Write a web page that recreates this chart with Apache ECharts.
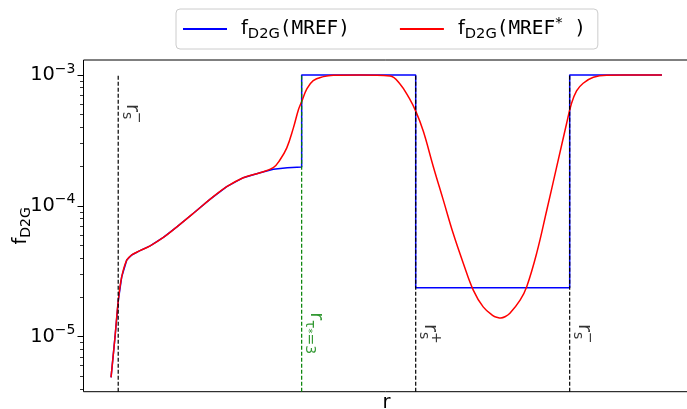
<!DOCTYPE html>
<html><head><meta charset="utf-8">
<script src="https://cdn.jsdelivr.net/npm/echarts@6/dist/echarts.min.js"></script>
<style>html,body{margin:0;padding:0;background:#fff}#c{width:687px;height:409px}</style>
</head><body><div id="c"></div>
<script>
// ---- data ----
const rRed = [0, 0.145, 0.265, 0.388, 0.57, 0.75, 1.05, 1.42, 1.90, 2.38, 2.99, 3.59, 4.20, 4.80, 5.41, 5.89, 6.13, 6.38, 6.62, 6.80, 6.92, 7.10, 7.34, 7.71, 8.07, 9.04, 10.13, 10.49, 10.82, 11.07, 11.34, 11.70, 12.06, 12.42, 12.79, 13.15, 13.51, 13.88, 14.0, 14.15, 14.3, 14.48, 14.85, 15.09, 15.45, 15.82, 16.18, 16.54, 16.70, 16.90, 17.14, 17.51, 17.99, 20.0];
const fRed = [4.89e-6, 1.0e-5, 1.905e-5, 2.87e-5, 3.85e-5, 4.21e-5, 4.54e-5, 4.94e-5, 5.73e-5, 6.88e-5, 8.77e-5, 1.12e-4, 1.40e-4, 1.64e-4, 1.79e-4, 1.96e-4, 2.24e-4, 2.77e-4, 3.94e-4, 5.40e-4, 6.25e-4, 7.75e-4, 9.05e-4, 9.70e-4, 9.95e-4, 1.0e-3, 9.82e-4, 8.53e-4, 6.67e-4, 5.24e-4, 3.69e-4, 1.99e-4, 1.11e-4, 6.16e-5, 3.63e-5, 2.27e-5, 1.69e-5, 1.44e-5, 1.41e-5, 1.39e-5, 1.42e-5, 1.51e-5, 1.90e-5, 2.41e-5, 4.33e-5, 9.29e-5, 1.99e-4, 4.27e-4, 5.90e-4, 7.55e-4, 8.64e-4, 9.60e-4, 9.95e-4, 1.0e-3];
const rBlue = [0, 0.145, 0.265, 0.388, 0.57, 0.75, 1.05, 1.42, 1.90, 2.38, 2.99, 3.59, 4.20, 4.80, 5.41, 5.89, 6.40, 6.92, 6.92, 11.06, 11.06, 16.65, 16.65, 20.0];
const fBlue = [4.89e-6, 1.0e-5, 1.905e-5, 2.87e-5, 3.85e-5, 4.21e-5, 4.54e-5, 4.94e-5, 5.73e-5, 6.88e-5, 8.77e-5, 1.12e-4, 1.40e-4, 1.64e-4, 1.79e-4, 1.90e-4, 1.95e-4, 1.98e-4, 1.0e-3, 1.0e-3, 2.37e-5, 2.37e-5, 1.0e-3, 1.0e-3];
const rLines = [0.26, 6.92, 11.06, 16.65];
const lineTop = [1.0e-3, 1.0e-3, 1.0e-3, 1.0e-3];
const lineColors = ['#000000', '#008000', '#000000', '#000000'];
const lineLabels = ['{r|r}{sub|s}', '{r|r}{sub|τ}{ss|*}{sub|=3}', '{r|r}{sub|s}', '{r|r}{sub|s}'];
const lineLabelSups = ['−', '', '+', '−'];
const labelY = [6.0e-4, 1.54e-5, 1.25e-5, 1.25e-5];
const majorTicks = [1e-5, 1e-4, 1e-3];
const minorTicks = [4e-6, 5e-6, 6e-6, 7e-6, 8e-6, 9e-6, 2e-5, 3e-5, 4e-5, 5e-5, 6e-5, 7e-5, 8e-5, 9e-5, 2e-4, 3e-4, 4e-4, 5e-4, 6e-4, 7e-4, 8e-4, 9e-4];
const seriesNames = ['blue', 'red'];
const legendTexts = ['{f|f}{sub|D2G}{m|(MREF)}', '{f|f}{sub|D2G}{m|(MREF}{sup|*}{m| )}'];

const Y_MIN = 3.8e-6, Y_MAX = 1.30e-3;
const FS = 19.4, SFS = 14;
const FONT = 'DejaVu Sans';
const MONO = 'DejaVu Sans Mono';
const richBase = {
  r: {fontSize: FS, fontFamily: FONT, lineHeight: 26, verticalAlign: 'middle'},
  f: {fontSize: FS, fontFamily: FONT, lineHeight: 26, verticalAlign: 'middle', color: '#000'},
  m: {fontSize: FS, fontFamily: MONO, lineHeight: 26, verticalAlign: 'middle', color: '#000'},
  a: {fontSize: FS, fontFamily: FONT, lineHeight: 26, verticalAlign: 'middle', color: '#000'},
  sub: {fontSize: SFS, fontFamily: FONT, lineHeight: 14, verticalAlign: 'bottom'},
  sup: {fontSize: SFS, fontFamily: FONT, lineHeight: 14, verticalAlign: 'top'},
  ss: {fontSize: 10, fontFamily: FONT, lineHeight: 10, verticalAlign: 'bottom'}
};
const richLegend = Object.assign({}, richBase, {
  sub: Object.assign({}, richBase.sub, {fontSize: 14.7, color: '#000'}),
  sup: Object.assign({}, richBase.sup, {fontSize: 14.7, color: '#000'})
});
function richColored(c) {
  const o = {};
  for (const k in richBase) o[k] = Object.assign({}, richBase[k], {color: c});
  return o;
}
const pairs = (xs, ys) => xs.map((x, i) => [x, ys[i]]);

const chart = echarts.init(document.getElementById('c'), null, {renderer: 'canvas'});
const series = [
  {name: seriesNames[0], type: 'line', data: pairs(rBlue, fBlue), showSymbol: false, symbol: 'none',
   lineStyle: {color: '#0000ff', width: 1.5}, itemStyle: {color: '#0000ff'}, z: 2, animation: false},
  {name: seriesNames[1], type: 'line', data: pairs(rRed, fRed), showSymbol: false, symbol: 'none', smooth: 0.4,
   lineStyle: {color: '#ff0000', width: 1.5}, itemStyle: {color: '#ff0000'}, z: 3, animation: false}
];
rLines.forEach((r, i) => {
  series.push({type: 'line', data: [[r, Y_MIN], [r, lineTop[i]]], symbol: 'none', silent: true, z: 4, animation: false,
    lineStyle: {color: lineColors[i], width: 1.2, type: [4, 2]}});
  series.push({type: 'scatter', data: [[r, labelY[i]]], symbolSize: 0, silent: true, z: 5, animation: false,
    label: {show: true, formatter: lineLabels[i], rotate: -90, position: [1, 0], align: 'left', verticalAlign: 'bottom',
      color: lineColors[i], rich: richColored(lineColors[i])}});
  if (lineLabelSups[i]) {
    series.push({type: 'scatter', data: [[r, labelY[i]]], symbolSize: 0, silent: true, z: 5, animation: false,
      label: {show: true, formatter: lineLabelSups[i], rotate: -90, position: [13, 8], align: 'left', verticalAlign: 'bottom',
        color: lineColors[i], fontSize: SFS, fontFamily: FONT, lineHeight: 14}});
  }
});

chart.setOption({
  animation: false,
  backgroundColor: '#fff',
  grid: {left: 83.5, top: 60, width: 606, height: 331.7, show: true, borderColor: '#000', borderWidth: 1,
         containLabel: false, outerBoundsMode: 'none'},
  legend: {
    data: seriesNames, left: 176, top: 9, orient: 'horizontal',
    itemWidth: 44, itemHeight: 2, icon: 'rect', itemGap: 50,
    padding: [7, 12, 7, 7], borderColor: '#cccccc', borderWidth: 1, borderRadius: 4, backgroundColor: '#fff',
    formatter: name => legendTexts[seriesNames.indexOf(name)],
    textStyle: {color: '#000', padding: [0, 0, 0, 9], rich: richLegend}
  },
  xAxis: {
    type: 'value', min: -1, max: 21,
    axisLine: {show: false, onZero: false}, axisTick: {show: false}, axisLabel: {show: false}, splitLine: {show: false},
    name: 'r', nameLocation: 'middle', nameGap: 2,
    nameTextStyle: {fontSize: FS, fontFamily: FONT, color: '#000', verticalAlign: 'top'}
  },
  yAxis: [{
    type: 'log', logBase: 10, min: Y_MIN, max: Y_MAX,
    axisLine: {show: false, onZero: false}, splitLine: {show: false}, minorTick: {show: false},
    axisTick: {show: true, length: 6, lineStyle: {color: '#000', width: 1}, customValues: majorTicks},
    axisLabel: {show: true, customValues: majorTicks, margin: 8, color: '#000',
      formatter: v => '{a|10}{sup|−' + Math.round(-Math.log10(v)) + '}', rich: richBase},
    name: '{f|f}{sub|D2G}', nameLocation: 'middle', nameRotate: 90, nameGap: 50, nameMoveOverlap: false,
    nameTextStyle: {rich: richBase, color: '#000'}
  }, {
    type: 'log', logBase: 10, min: Y_MIN, max: Y_MAX, position: 'left', offset: 0,
    axisLine: {show: false, onZero: false}, splitLine: {show: false}, axisLabel: {show: false},
    axisTick: {show: true, length: 3.5, lineStyle: {color: '#000', width: 0.8}, customValues: minorTicks}
  }],
  series: series
});
</script>
</body></html>
